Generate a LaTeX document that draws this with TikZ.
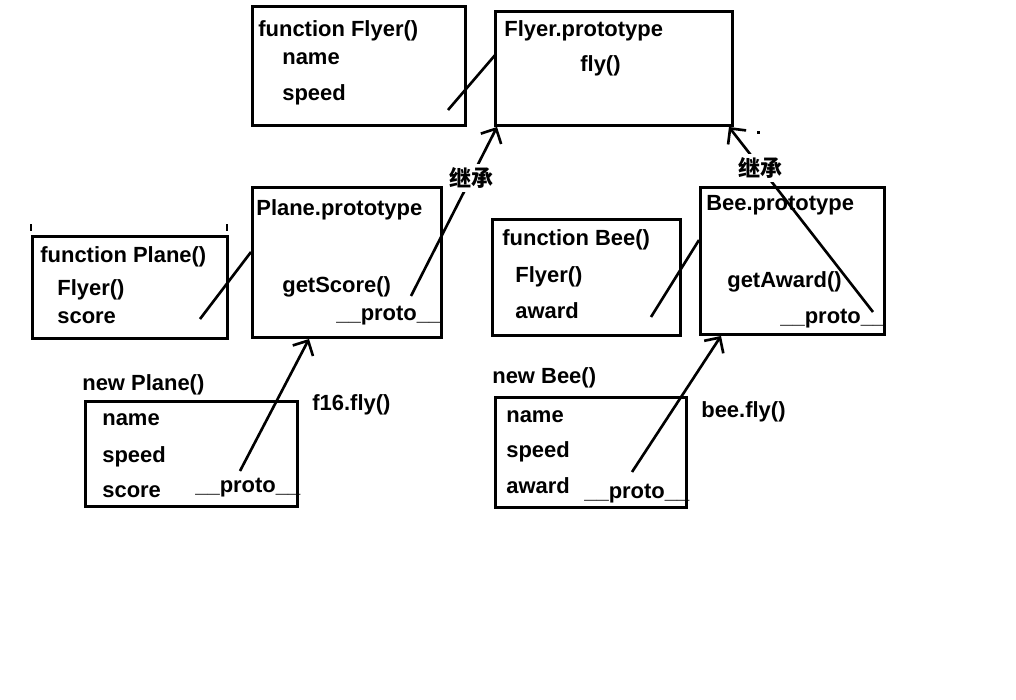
\documentclass[tikz,border=0pt]{standalone}
\usepackage{fontspec}
\setmainfont{Liberation Sans}
\newfontfamily\cjk{Noto Sans CJK SC}
\usetikzlibrary{arrows.meta,calc,positioning}

\begin{document}
\begin{tikzpicture}[x=0.02cm, y=-0.02cm,
  box/.style={draw, line width=1.7pt, anchor=north west, inner sep=0pt},
  txt/.style={anchor=base west, inner sep=0pt, font=\fontsize{12.5}{15}\selectfont\bfseries},
  link/.style={line width=1.5pt},
  inherit/.style={line width=1.5pt, -{Straight Barb[length=6.5pt,width=13pt]}},
  tag/.style={fill=white, inner sep=2pt, font=\cjk\fontsize{12.5}{15}\selectfont\bfseries}]
  \useasboundingbox (0,0) rectangle (1016,699);
  \node[box, minimum width=4.26cm, minimum height=2.38cm] (FF) at (251,5) {};
  \node[box, minimum width=4.74cm, minimum height=2.28cm] (FP) at (494,10) {};
  \node[box, minimum width=3.90cm, minimum height=2.04cm] (PF) at (31,235) {};
  \node[box, minimum width=3.78cm, minimum height=3.00cm] (PP) at (251,186) {};
  \node[box, minimum width=4.24cm, minimum height=2.10cm] (PO) at (84,400) {};
  \node[box, minimum width=3.76cm, minimum height=2.32cm] (BF) at (491,218) {};
  \node[box, minimum width=3.68cm, minimum height=2.94cm] (BP) at (699,186) {};
  \node[box, minimum width=3.82cm, minimum height=2.20cm] (BO) at (494,396) {};

  \node[txt] (FFt) at (258,37) {function Flyer()};
  \node[txt] (FFa) at (282,65) {name};
  \node[txt] (FFb) at (282,101) {speed};
  \node[txt] (FPt) at (504,37) {Flyer.prototype};
  \node[txt] (FPa) at (580,72) {fly()};
  \node[txt] (PFt) at (40,262) {function Plane()};
  \node[txt] (PFa) at (57,295) {Flyer()};
  \node[txt] (PFb) at (57,323) {score};
  \node[txt] (PPt) at (256,215) {Plane.prototype};
  \node[txt] (PPa) at (282,292) {getScore()};
  \node[txt] (PPb) at (336,320) {\_\_proto\_\_};
  \node[txt] (POt) at (82,390) {new Plane()};
  \node[txt] (POa) at (102,425) {name};
  \node[txt] (POb) at (102,462) {speed};
  \node[txt] (POc) at (102,497) {score};
  \node[txt] (POd) at (195,492) {\_\_proto\_\_};
  \node[txt] (f16) at (312,410) {f16.fly()};
  \node[txt] (BFt) at (502,245) {function Bee()};
  \node[txt] (BFa) at (515,282) {Flyer()};
  \node[txt] (BFb) at (515,318) {award};
  \node[txt] (BPt) at (706,210) {Bee.prototype};
  \node[txt] (BPa) at (727,287) {getAward()};
  \node[txt] (BPb) at (780,323) {\_\_proto\_\_};
  \node[txt] (BOt) at (492,383) {new Bee()};
  \node[txt] (BOa) at (506,422) {name};
  \node[txt] (BOb) at (506,457) {speed};
  \node[txt] (BOc) at (506,493) {award};
  \node[txt] (BOd) at (584,498) {\_\_proto\_\_};
  \node[txt] (bee) at (701,417) {bee.fly()};

  \coordinate (FFe) at (448,110);
  \coordinate (PFe) at (200,319);
  \coordinate (PPe) at (411,296);
  \coordinate (POe) at (240,471);
  \coordinate (BFe) at (651,317);
  \coordinate (BPe) at (873,312);
  \coordinate (BOe) at (632,472);

  \draw[link] (FFe) -- ($(FP.north west)+(2,44)$);
  \draw[link] (PFe) -- ($(PP.north west)+(0,66)$);
  \draw[link] (BFe) -- ($(BP.north west)+(0,54)$);
  \draw[inherit] (PPe) -- node[tag, pos=0.7] {继承} ($(FP.south west)+(3,0)$);
  \draw[inherit] (BPe) -- node[tag, pos=0.78] {继承} ($(FP.south east)+(-5,0)$);
  \draw[inherit] (POe) -- ($(PP.south west)+(58,0)$);
  \draw[inherit] (BOe) -- ($(BP.south west)+(22,0)$);

  \draw[line width=1.5pt] (31,224) -- (31,231) (227,224) -- (227,231);
  \fill (757,131) rectangle (760,134);
\end{tikzpicture}
\end{document}
